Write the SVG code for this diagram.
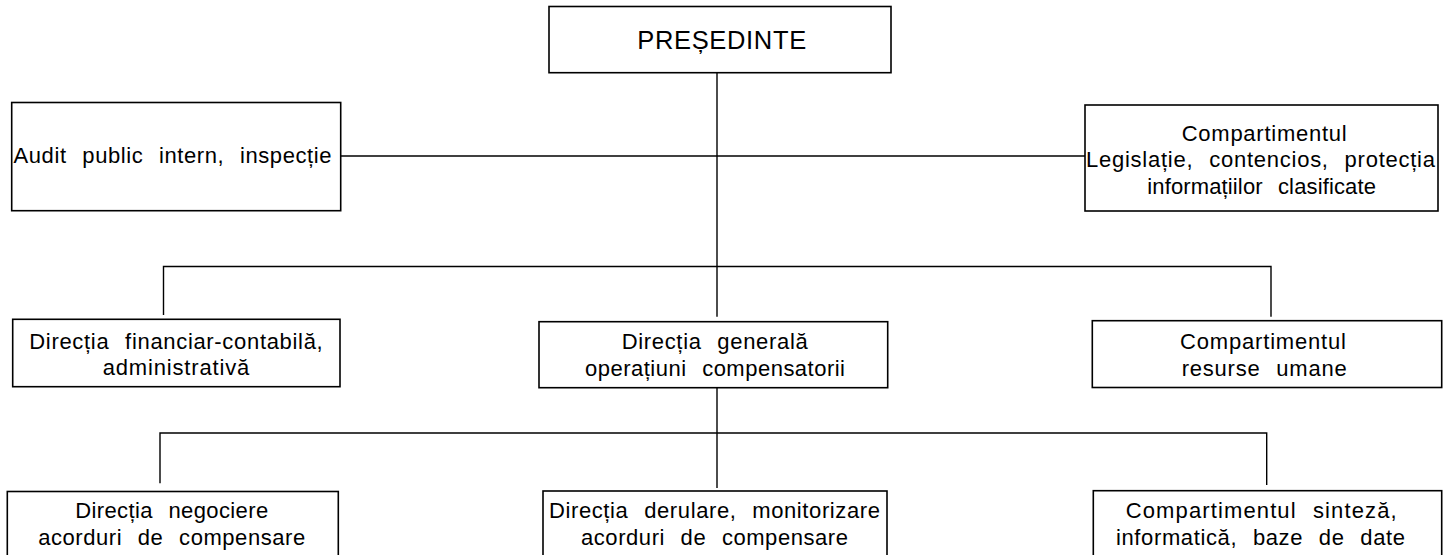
<svg xmlns="http://www.w3.org/2000/svg" width="1450" height="555" viewBox="0 0 1450 555">
<style>
.box{fill:#fff;stroke:#000;stroke-width:1.6}
.ln{fill:none;stroke:#000;stroke-width:1.4}
text{font-family:"Liberation Sans",Arial,Helvetica,sans-serif;font-size:22px;fill:#000;word-spacing:9px}
.c{text-anchor:middle}
.big{font-size:25.5px;word-spacing:0}
</style>
<rect width="1450" height="555" fill="#fff"/>
<g id="connectors">
<line class="ln" x1="717" y1="72.7" x2="717" y2="316.7"/>
<line class="ln" x1="340.7" y1="156" x2="1085" y2="156"/>
<polyline class="ln" points="163.5,315 163.5,266.5 1271,266.5 1271,316.7"/>
<line class="ln" x1="717" y1="387.7" x2="717" y2="488"/>
<polyline class="ln" points="160,483.3 160,433 1266.7,433 1266.7,485"/>
</g>
<g id="presedinte">
<rect class="box" x="549" y="6.5" width="342" height="66.2"/>
<text class="c big" x="721.7" y="49" textLength="169" lengthAdjust="spacing">PREȘEDINTE</text>
</g>
<g id="audit">
<rect class="box" x="11.7" y="102.5" width="329" height="108.2"/>
<text x="13.5" y="163.3" textLength="318" lengthAdjust="spacing">Audit public intern, inspecție</text>
</g>
<g id="legislatie">
<rect class="box" x="1085" y="105" width="353" height="106"/>
<text class="c" x="1264.2" y="140.5" textLength="165" lengthAdjust="spacing">Compartimentul</text>
<text class="c" x="1260.5" y="167" textLength="349" lengthAdjust="spacing">Legislație, contencios, protecția</text>
<text class="c" x="1261.6" y="193.5" textLength="228.7" lengthAdjust="spacing">informațiilor clasificate</text>
</g>
<g id="financiar">
<rect class="box" x="12.7" y="319.3" width="327.3" height="67.4"/>
<text class="c" x="176" y="349.3" textLength="293.4" lengthAdjust="spacing">Direcția financiar-contabilă,</text>
<text class="c" x="176" y="375" textLength="146.6" lengthAdjust="spacing">administrativă</text>
</g>
<g id="directia-generala">
<rect class="box" x="539" y="321.7" width="348.7" height="66"/>
<text class="c" x="714.7" y="349.3" textLength="186" lengthAdjust="spacing">Direcția generală</text>
<text class="c" x="715" y="375.7" textLength="260" lengthAdjust="spacing">operațiuni compensatorii</text>
</g>
<g id="resurse-umane">
<rect class="box" x="1092.3" y="320.7" width="349.4" height="66.8"/>
<text class="c" x="1263" y="349" textLength="166" lengthAdjust="spacing">Compartimentul</text>
<text class="c" x="1264.2" y="375.7" textLength="165" lengthAdjust="spacing">resurse umane</text>
</g>
<g id="negociere">
<rect class="box" x="7.3" y="491.5" width="331" height="80"/>
<text class="c" x="171.7" y="518.3" textLength="193" lengthAdjust="spacing">Direcția negociere</text>
<text class="c" x="171.7" y="545" textLength="267" lengthAdjust="spacing">acorduri de compensare</text>
</g>
<g id="derulare">
<rect class="box" x="543" y="491" width="344" height="80"/>
<text class="c" x="714.5" y="518.3" textLength="331" lengthAdjust="spacing">Direcția derulare, monitorizare</text>
<text class="c" x="714.5" y="545" textLength="267" lengthAdjust="spacing">acorduri de compensare</text>
</g>
<g id="sinteza">
<rect class="box" x="1093.3" y="490.7" width="348.4" height="80"/>
<text class="c" x="1261.2" y="518.3" textLength="271" lengthAdjust="spacing">Compartimentul sinteză,</text>
<text class="c" x="1260.5" y="545" textLength="289" lengthAdjust="spacing">informatică, baze de date</text>
</g>
</svg>
